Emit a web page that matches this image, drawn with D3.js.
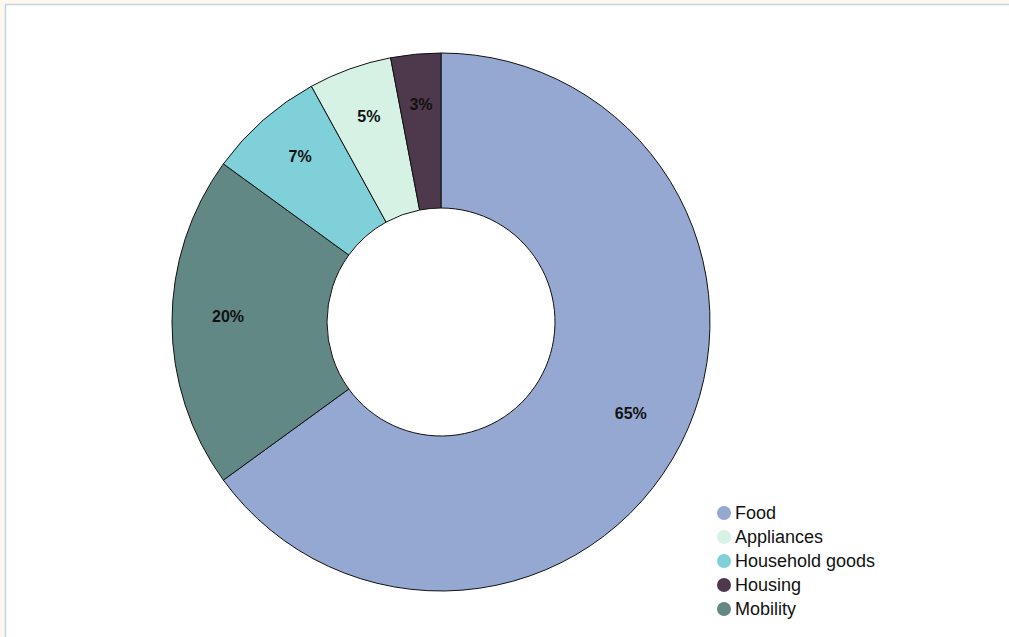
<!DOCTYPE html>
<html>
<head>
<meta charset="utf-8">
<script src="https://cdn.jsdelivr.net/npm/d3@7"></script>
<style>
  html, body { margin: 0; padding: 0; background: #fff8ef; }
  svg { display: block; }
</style>
</head>
<body>
<svg id="chart" width="1009" height="637"></svg>
<script>
// Share of spending by category (percent), drawn clockwise from the top
const categories = ["Food", "Mobility", "Household goods", "Appliances", "Housing"];
const shares = [65, 20, 7, 5, 3];
const colors = ["#94a8d2", "#618884", "#7fd0d8", "#d5f2e5", "#4d394b"];

// Legend order
const legendItems = ["Food", "Appliances", "Household goods", "Housing", "Mobility"];

const svg = d3.select("#chart");

// White panel with a thin blue edge
svg.append("rect")
  .attr("x", 5.5).attr("y", 4.5)
  .attr("width", 1010).attr("height", 640)
  .attr("fill", "#ffffff")
  .attr("stroke", "#c3d3e6")
  .attr("stroke-width", 1.5);

const cx = 441, cy = 322;
const outerR = 269, innerR = 114, labelR = 213;

const color = d3.scaleOrdinal().domain(categories).range(colors);

const data = categories.map((c, i) => ({ category: c, value: shares[i] }));

const pie = d3.pie().value(d => d.value).sort(null);
const arc = d3.arc().innerRadius(innerR).outerRadius(outerR);
const labelArc = d3.arc().innerRadius(labelR).outerRadius(labelR);

const g = svg.append("g").attr("transform", `translate(${cx},${cy})`);

const arcs = pie(data);

g.selectAll("path.slice")
  .data(arcs)
  .join("path")
  .attr("class", "slice")
  .attr("d", arc)
  .attr("fill", d => color(d.data.category))
  .attr("stroke", "#111111")
  .attr("stroke-width", 1);

g.selectAll("text.value")
  .data(arcs)
  .join("text")
  .attr("class", "value")
  .attr("transform", d => `translate(${labelArc.centroid(d)})`)
  .attr("text-anchor", "middle")
  .attr("font-family", "Liberation Sans, Arial, sans-serif")
  .attr("font-weight", "bold")
  .attr("font-size", 16)
  .attr("fill", "#111111")
  .text(d => d.data.value + "%");

// Legend
const legend = svg.append("g").attr("transform", "translate(724,513)");
const rowH = 24;

legend.selectAll("circle")
  .data(legendItems)
  .join("circle")
  .attr("cx", 0)
  .attr("cy", (d, i) => i * rowH)
  .attr("r", 7)
  .attr("fill", d => color(d));

legend.selectAll("text")
  .data(legendItems)
  .join("text")
  .attr("x", 11)
  .attr("y", (d, i) => i * rowH)
  .attr("dy", "0.35em")
  .attr("font-family", "Liberation Sans, Arial, sans-serif")
  .attr("font-size", 18)
  .attr("fill", "#111111")
  .text(d => d);
</script>
</body>
</html>
